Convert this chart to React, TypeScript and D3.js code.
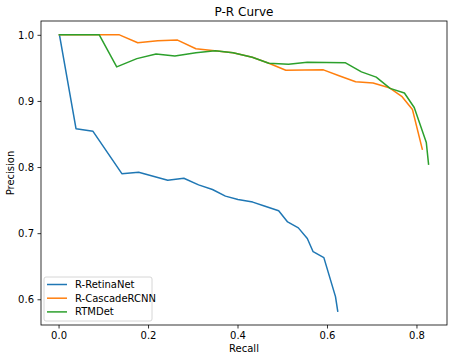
import * as d3 from 'd3';
import { useEffect, useRef } from "react";

const W = 455, H = 360;

// R-RetinaNet
const retinaRecall = [0.002, 0.039, 0.077, 0.1415, 0.179, 0.244, 0.28, 0.313, 0.344, 0.373, 0.401, 0.434, 0.46, 0.492, 0.512, 0.536, 0.556, 0.569, 0.593, 0.619, 0.624];
const retinaPrec = [1.0, 0.858, 0.854, 0.790, 0.792, 0.780, 0.783, 0.773, 0.766, 0.756, 0.751, 0.747, 0.741, 0.734, 0.717, 0.708, 0.692, 0.672, 0.663, 0.604, 0.582];

// R-CascadeRCNN
const cascadeRecall = [0.002, 0.091, 0.136, 0.177, 0.2215, 0.266, 0.307, 0.349, 0.39, 0.433, 0.47, 0.508, 0.592, 0.627, 0.664, 0.703, 0.739, 0.767, 0.791, 0.813];
const cascadePrec = [1.0, 1.0, 1.0, 0.988, 0.991, 0.992, 0.979, 0.976, 0.973, 0.966, 0.957, 0.9465, 0.947, 0.938, 0.929, 0.927, 0.920, 0.907, 0.887, 0.827];

// RTMDet
const rtmRecall = [0.002, 0.091, 0.13, 0.175, 0.218, 0.26, 0.307, 0.35, 0.39, 0.433, 0.47, 0.514, 0.556, 0.6415, 0.677, 0.71, 0.741, 0.773, 0.795, 0.822, 0.827];
const rtmPrec = [1.0, 1.0, 0.9515, 0.964, 0.971, 0.968, 0.973, 0.976, 0.973, 0.966, 0.957, 0.9555, 0.9586, 0.9576, 0.944, 0.936, 0.919, 0.912, 0.890, 0.837, 0.8045];

const seriesNames = ["R-RetinaNet", "R-CascadeRCNN", "RTMDet"];
const colors = ["#1f77b4", "#ff7f0e", "#2ca02c"];
const xTicks = [0.0, 0.2, 0.4, 0.6, 0.8];
const yTicks = [0.6, 0.7, 0.8, 0.9, 1.0];

const App = () => {
    const svgRef = useRef<SVGSVGElement>(null);
    const margin = { top: 21, bottom: 35, right: 8, left: 41 };

    useEffect(() => {
        const svg = d3.select(svgRef.current)
            .attr('width', W)
            .attr('height', H);
        svg.selectAll('*').remove();

        const series = [
            retinaRecall.map((r, i) => [r, retinaPrec[i]]),
            cascadeRecall.map((r, i) => [r, cascadePrec[i]]),
            rtmRecall.map((r, i) => [r, rtmPrec[i]]),
        ];
        const allX = [...retinaRecall, ...cascadeRecall, ...rtmRecall];
        const allY = [...retinaPrec, ...cascadePrec, ...rtmPrec];
        const [x0, x1] = d3.extent(allX) as [number, number];
        const [y0, y1] = d3.extent(allY) as [number, number];
        // matplotlib-style 5% margins
        const px = (x1 - x0) * 0.05, py = (y1 - y0) * 0.05;

        const x = d3.scaleLinear().domain([x0 - px, x1 + px]).range([margin.left, W - margin.right]);
        const y = d3.scaleLinear().domain([y0 - py, y1 + py]).range([H - margin.bottom, margin.top]);

        const font = 'DejaVu Sans, sans-serif';

        const xAxis = svg.append('g')
            .attr('transform', `translate(0,${H - margin.bottom})`)
            .call(d3.axisBottom(x).tickValues(xTicks).tickFormat(d3.format('.1f')).tickSizeOuter(0).tickSize(3.5).tickPadding(3.5));
        const yAxis = svg.append('g')
            .attr('transform', `translate(${margin.left},0)`)
            .call(d3.axisLeft(y).tickValues(yTicks).tickFormat(d3.format('.1f')).tickSizeOuter(0).tickSize(3.5).tickPadding(3.5));
        [xAxis, yAxis].forEach(g => {
            g.select('.domain').remove();
            g.selectAll('line').attr('stroke', '#000').attr('stroke-width', 0.8);
            g.selectAll('text').attr('font-family', font).attr('font-size', 10).attr('fill', '#000');
        });

        // frame
        svg.append('rect')
            .attr('x', margin.left).attr('y', margin.top)
            .attr('width', W - margin.right - margin.left)
            .attr('height', H - margin.bottom - margin.top)
            .attr('fill', 'none').attr('stroke', '#000').attr('stroke-width', 0.8);

        const line = d3.line<number[]>().x(d => x(d[0])).y(d => y(d[1]));
        series.forEach((s, i) => {
            svg.append('path')
                .attr('d', line(s))
                .attr('fill', 'none')
                .attr('stroke', colors[i])
                .attr('stroke-width', 1.5)
                .attr('stroke-linejoin', 'round')
                .attr('stroke-linecap', 'square');
        });

        svg.append('text')
            .attr('x', (margin.left + W - margin.right) / 2)
            .attr('y', 16)
            .attr('text-anchor', 'middle')
            .attr('font-family', font).attr('font-size', 12)
            .text('P-R Curve');
        svg.append('text')
            .attr('x', (margin.left + W - margin.right) / 2)
            .attr('y', 352)
            .attr('text-anchor', 'middle')
            .attr('font-family', font).attr('font-size', 10)
            .text('Recall');
        svg.append('text')
            .attr('transform', `translate(13.5,${(margin.top + H - margin.bottom) / 2}) rotate(-90)`)
            .attr('text-anchor', 'middle')
            .attr('font-family', font).attr('font-size', 10)
            .text('Precision');

        // legend
        const lg = svg.append('g').attr('transform', `translate(44,277)`);
        lg.append('rect')
            .attr('width', 108).attr('height', 44).attr('rx', 2)
            .attr('fill', 'white').attr('fill-opacity', 0.8)
            .attr('stroke', '#ccc').attr('stroke-width', 0.8);
        seriesNames.forEach((n, i) => {
            const ly = 7.5 + i * 13.7;
            lg.append('line')
                .attr('x1', 3).attr('x2', 23).attr('y1', ly).attr('y2', ly)
                .attr('stroke', colors[i]).attr('stroke-width', 1.5);
            lg.append('text')
                .attr('x', 31).attr('y', ly + 3.5)
                .attr('font-family', font).attr('font-size', 10)
                .text(n);
        });
    });

    return (
        <div style={{ position: 'absolute', left: 0, top: 0 }}>
            <svg ref={svgRef} />
        </div>
    );
}

export default App;
